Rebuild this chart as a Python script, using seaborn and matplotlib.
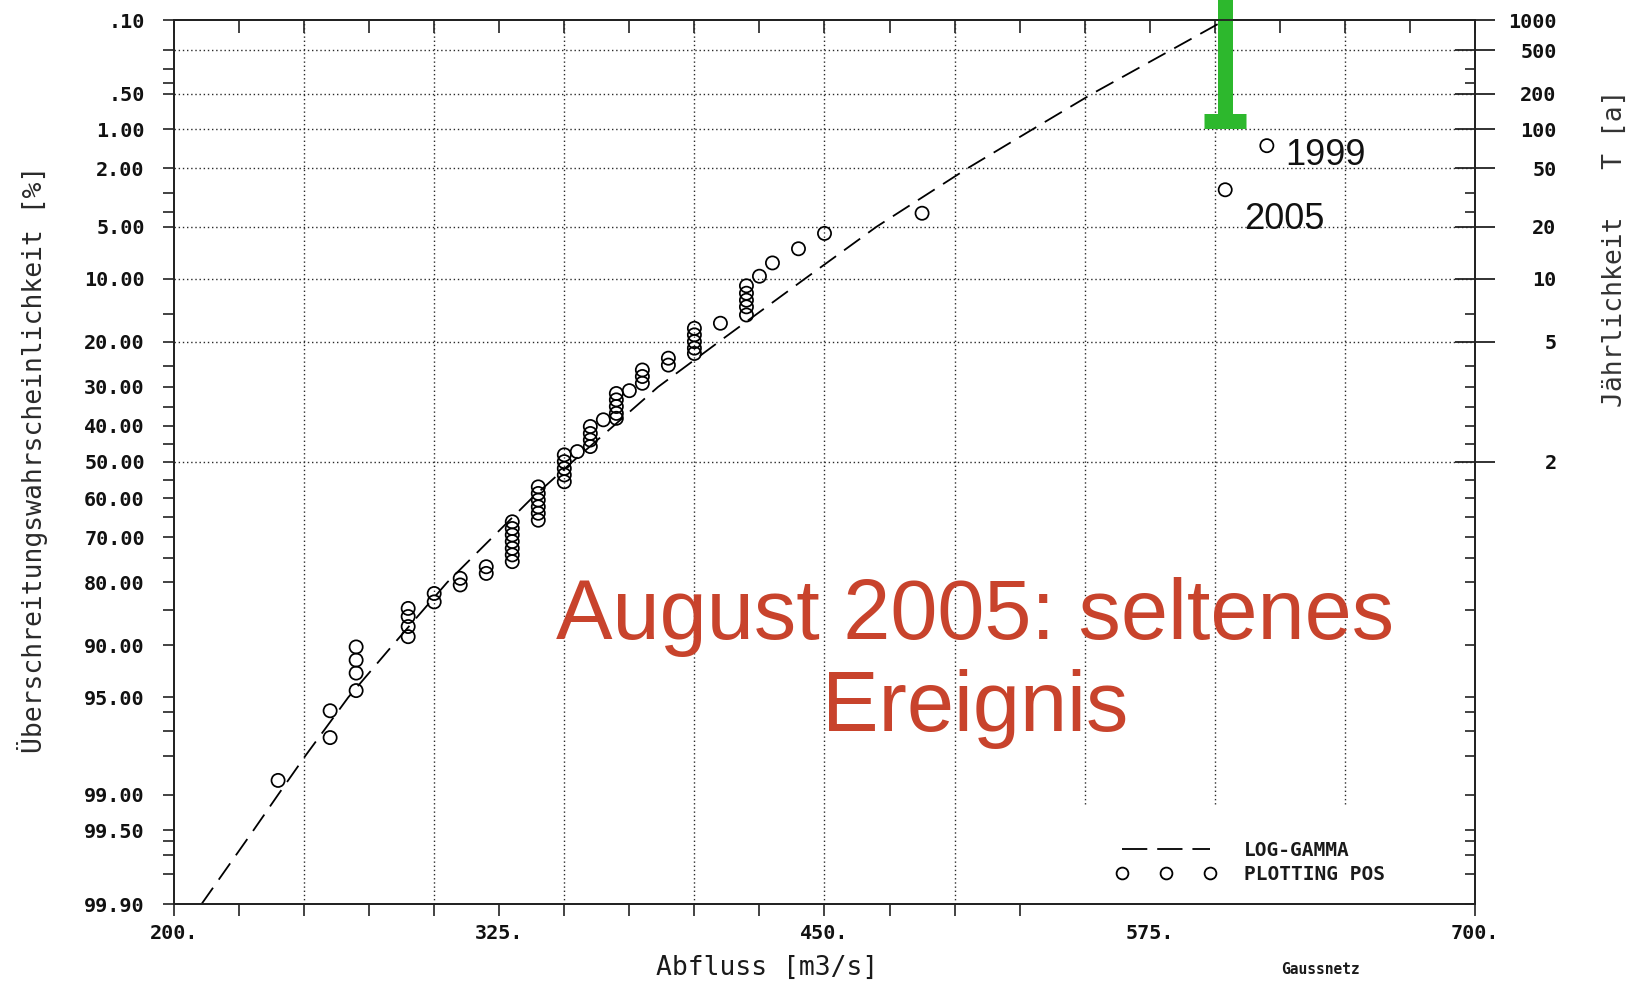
import numpy as np
import pandas as pd
import matplotlib
matplotlib.use("Agg")
import matplotlib.pyplot as plt
from matplotlib.lines import Line2D
from matplotlib.ticker import FixedLocator, FixedFormatter, NullFormatter
import seaborn as sns
from statistics import NormalDist

# ---------------- data ----------------
# annual flood peaks (plotting positions)
obs_discharge = [620, 604, 487.5, 450, 440, 430, 425,
                 420, 420, 420, 420, 420,
                 410,
                 400, 400, 400, 400, 400,
                 390, 390,
                 380, 380, 380,
                 375,
                 370, 370, 370, 370, 370,
                 365,
                 360, 360, 360, 360,
                 355,
                 350, 350, 350, 350, 350,
                 340, 340, 340, 340, 340, 340,
                 330, 330, 330, 330, 330, 330, 330,
                 320, 320,
                 310, 310,
                 300, 300,
                 290, 290, 290, 290,
                 270, 270, 270, 270,
                 260, 260,
                 240]
obs_exceed = [1.35, 2.85, 4.1, 5.5, 6.8, 8.2, 9.7,
              10.9, 11.9, 12.9, 13.9, 15.2,
              16.6,
              17.5, 18.7, 20.0, 21.3, 22.4,
              23.4, 24.9,
              26.0, 27.5, 29.1,
              30.9,
              31.6, 33.2, 34.9, 36.7, 38.0,
              38.4,
              40.2, 42.1, 43.9, 45.7,
              47.1,
              48.0, 49.9, 51.8, 53.6, 55.5,
              56.9, 58.7, 60.5, 62.3, 64.0, 65.8,
              66.2, 67.9, 69.5, 71.1, 72.7, 74.2, 75.7,
              76.8, 78.2,
              79.2, 80.5,
              82.1, 83.6,
              84.7, 86.0, 87.5, 88.9,
              90.2, 91.7, 93.0, 94.5,
              95.9, 97.3,
              98.7]

# fitted LOG-GAMMA distribution
fit_exceed = [99.9, 99.5, 99, 98, 95, 90, 80, 70, 60, 50,
              40, 30, 20, 10, 5, 2, 1, 0.5, 0.2, 0.1]
fit_discharge = [210.6, 230.5, 240, 250.5, 267, 284, 305, 322.5, 337.5, 353,
                 369, 386, 409.5, 442.5, 470, 505, 530, 553, 583, 604]

# highlighted years
event_years = ["1999", "2005"]
event_discharge = [620, 604]
event_exceed = [1.35, 2.85]

# green marker (August 2005 event, T >= 100 a)
marker_discharge = 604
marker_exceed_cap = 0.85
marker_exceed_top = 0.02

# axis ticks
ytick_major = [0.1, 0.5, 1, 2, 5, 10, 20, 30, 40, 50, 60, 70, 80, 90, 95, 99, 99.5, 99.9]
ytick_labels = [".10", ".50", "1.00", "2.00", "5.00", "10.00", "20.00", "30.00", "40.00",
                "50.00", "60.00", "70.00", "80.00", "90.00", "95.00", "99.00", "99.50", "99.90"]
ytick_minor = [0.2, 0.3, 0.4, 3, 4, 15, 25, 35, 45, 55, 65, 75, 85, 96, 97, 98, 99.6, 99.7, 99.8]
grid_exceed = [0.2, 0.5, 1, 2, 5, 10, 20, 50]
return_periods = [1000, 500, 200, 100, 50, 20, 10, 5, 2]
return_labels = ["1000", "500", "200", "100", "50", "20", "10", "5", "2"]
xtick_major = [200, 325, 450, 575, 700]
xtick_labels = ["200.", "325.", "450.", "575.", "700."]
xtick_minor = [225, 250, 275, 300, 350, 375, 400, 425, 475, 500, 525, 550, 600, 625, 650, 675]
xgrid = [250, 300, 350, 400, 450, 500, 550, 600, 650]

assert len(obs_discharge) == len(obs_exceed)

# ---------------- style ----------------
sns.set_theme(style="white")
plt.rcParams['font.family'] = ['DejaVu Sans Mono', 'DejaVu Sans']
plt.rcParams['axes.edgecolor'] = '#222222'
plt.rcParams['axes.linewidth'] = 1.3

_nd = NormalDist()


def _fwd(p):
    p = np.clip(np.asarray(p, dtype=float), 1e-7, 100 - 1e-7)
    return np.vectorize(lambda v: _nd.inv_cdf(v / 100.0), otypes=[float])(p)


def _inv(z):
    z = np.asarray(z, dtype=float)
    return np.vectorize(lambda v: 100.0 * _nd.cdf(v), otypes=[float])(z)


W, H = 1636, 984
fig = plt.figure(figsize=(W / 100, H / 100), dpi=100)
ax = fig.add_axes([174 / W, 1 - 904 / H, (1475 - 174) / W, (904 - 20) / H])
ax.set_yscale('function', functions=(_fwd, _inv))

obs = pd.DataFrame({"Abfluss": obs_discharge, "P": obs_exceed})
fit = pd.DataFrame({"Abfluss": fit_discharge, "P": fit_exceed})

GRID = dict(color='#2a2a2a', lw=1.0, ls=(0, (1, 2.0)), zorder=0.5)
for g in grid_exceed:
    ax.axhline(g, **GRID)
for g in xgrid:
    ax.axvline(g, **GRID)

sns.lineplot(data=fit, x="Abfluss", y="P", ax=ax, sort=False, estimator=None,
             color='black', lw=1.3, linestyle=(0, (11, 5.5)), zorder=3)
sns.scatterplot(data=obs, x="Abfluss", y="P", ax=ax, marker='o', s=90,
                facecolors='none', edgecolors='black', linewidth=1.25, zorder=3,
                legend=False)

# green marker
ax.plot([marker_discharge, marker_discharge], [marker_exceed_cap, marker_exceed_top],
        color='#2DB82D', lw=10.8, solid_capstyle='butt', clip_on=False, zorder=6)
ax.plot([marker_discharge], [marker_exceed_cap], marker='_', ms=30, mew=10.8,
        color='#2DB82D', clip_on=False, zorder=6)

ax.set_xlim(200, 700)
ax.set_ylim(99.9, 0.1)

# annotations of years
offsets = [(13, -7), (13.5, -21.5)]
for yr, q, p, off in zip(event_years, event_discharge, event_exceed, offsets):
    ax.annotate(yr, xy=(q, p), xytext=off, textcoords='offset points',
                ha='left', va='center', fontsize=26, family='Liberation Sans',
                color='#111111')

ax.text((975 - 174) / 1301, 1 - (663 - 20) / 884, "August 2005: seltenes\nEreignis",
        transform=ax.transAxes, ha='center', va='center', fontsize=61,
        family='Liberation Sans', color='#C8432C', linespacing=1.18, zorder=7)

TICKFONT = dict(labelsize=14.5, labelcolor='#111111')

# ticks: left
ax.yaxis.set_major_locator(FixedLocator(ytick_major))
ax.yaxis.set_major_formatter(FixedFormatter(ytick_labels))
ax.yaxis.set_minor_locator(FixedLocator(ytick_minor))
ax.yaxis.set_minor_formatter(NullFormatter())
ax.tick_params(axis='y', which='both', direction='out', length=8, width=1.2,
               color='#222222', left=True, right=False, pad=13, **TICKFONT)

# ticks: bottom
ax.xaxis.set_major_locator(FixedLocator(xtick_major))
ax.xaxis.set_major_formatter(FixedFormatter(xtick_labels))
ax.xaxis.set_minor_locator(FixedLocator(xtick_minor))
ax.xaxis.set_minor_formatter(NullFormatter())
ax.tick_params(axis='x', which='both', direction='out', length=8.5, width=1.2,
               color='#222222', bottom=True, top=False, pad=6, **TICKFONT)

for lab in ax.get_xticklabels() + ax.get_yticklabels():
    lab.set_fontweight('bold')

# ticks: top (pointing into the plot)
sec = ax.secondary_xaxis('top')
sec.xaxis.set_major_locator(FixedLocator(xtick_major + xtick_minor))
sec.tick_params(axis='x', direction='in', length=9, width=1.2, color='#222222',
                labeltop=False)
sec.spines['top'].set_linewidth(1.3)

# right axis: return period
ax2 = ax.twinx()
ax2.set_yscale('function', functions=(_fwd, _inv))
ax2.set_ylim(99.9, 0.1)
ax2.yaxis.set_major_locator(FixedLocator([100.0 / t for t in return_periods]))
ax2.yaxis.set_major_formatter(FixedFormatter(return_labels))
right_minor = [v for v in ytick_major + ytick_minor if v not in [100.0 / t for t in return_periods]]
ax2.yaxis.set_minor_locator(FixedLocator(right_minor))
ax2.yaxis.set_minor_formatter(NullFormatter())
ax2.tick_params(axis='y', which='major', direction='inout', length=29.5, width=1.3,
                color='#222222', pad=44, **TICKFONT)
ax2.tick_params(axis='y', which='minor', direction='in', length=7, width=1.2,
                color='#222222')
for lab in ax2.get_yticklabels():
    lab.set_horizontalalignment('right')
    lab.set_fontweight('bold')
ax2.grid(False)

# labels
ax.set_xlabel("Abfluss [m3/s]", fontsize=19, color='#1a1a1a')
ax.xaxis.label.set_verticalalignment('center')
ax.xaxis.set_label_coords((767 - 174) / 1301, -(968 - 904) / 884)
ax.set_ylabel("Überschreitungswahrscheinlichkeit [%]", fontsize=19, color='#2a2a2a')
ax.yaxis.label.set_verticalalignment('center')
ax.yaxis.set_label_coords((33 - 174) / 1301, 1 - (459 - 20) / 884)
ax2.set_ylabel("Jährlichkeit   T [a]", fontsize=19, color='#333333')
ax2.yaxis.set_label_coords((1615 - 174) / 1301, 1 - (248 - 20) / 884)
ax2.yaxis.label.set_verticalalignment('center')

fig.text(1321 / W, 1 - 970 / H, "Gaussnetz", fontsize=10.5, fontweight='bold',
         ha='center', va='center', color='#1a1a1a')

# legend (white box hides the grid behind it, drawn below the axis lines)
handles = [Line2D([], [], color='black', lw=1.3, ls=(0, (14, 5.5))),
           Line2D([], [], color='black', ls='none', marker='o', mfc='none',
                  mec='black', ms=8.5, mew=1.3)]
leg = ax.legend(handles, ["LOG-GAMMA", "PLOTTING POS"], loc='lower left',
                bbox_to_anchor=((1080 - 174) / 1301, -(919.5 - 904) / 884),
                borderaxespad=0, numpoints=3, handlelength=5.15, handletextpad=1.45,
                labelspacing=0.22, borderpad=1.85,
                prop={'family': 'DejaVu Sans Mono', 'size': 14, 'weight': 'bold'},
                frameon=True, fancybox=False)
leg.get_frame().set_facecolor('white')
leg.get_frame().set_edgecolor('none')
leg.get_frame().set_alpha(1.0)
leg.set_zorder(2.2)
for t in leg.get_texts():
    t.set_color('#1a1a1a')

fig.savefig("out.png", dpi=100)
